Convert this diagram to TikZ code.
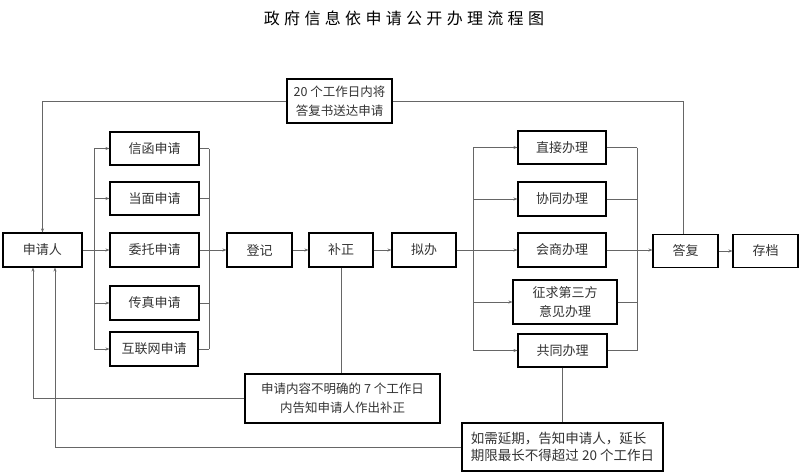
\documentclass[tikz,border=0pt]{standalone}
\usepackage{fontspec}
\setmainfont{Noto Sans CJK SC}
\newfontfamily\cjk{Noto Sans CJK SC}
\usetikzlibrary{arrows.meta}
\begin{document}
\begin{tikzpicture}[x=1pt,y=-1pt,
  box/.style={draw=black, line width=1.1pt, inner sep=0pt, align=center,
    font=\cjk\fontsize{13}{18}\selectfont, text=black!80},
  conn/.style={draw=black!60, line width=0.8pt},
  arr/.style={conn, -{Stealth[length=4pt,width=3pt]}}]
\useasboundingbox (0,0) rectangle (800,476);
\fill[white] (0,0) rectangle (800,476);
% title
\node (title) at (404,18) {\cjk\fontsize{16}{18}\selectfont\addfontfeature{LetterSpace=27}政府信息依申请公开办理流程图};
% boxes
\node[box, minimum width=79pt, minimum height=34pt] (sq) at (42.5,250) {申请人};
\node[box, minimum width=89pt, minimum height=33pt] (xh) at (154.5,148.5) {信函申请};
\node[box, minimum width=89pt, minimum height=33pt] (dm) at (154.5,198.5) {当面申请};
\node[box, minimum width=89pt, minimum height=34pt] (wt) at (154.5,250) {委托申请};
\node[box, minimum width=89pt, minimum height=34pt] (cz) at (154.5,303) {传真申请};
\node[box, minimum width=88pt, minimum height=34pt] (hl) at (154,349) {互联网申请};
\node[box, minimum width=65pt, minimum height=34pt] (dj) at (259.5,250) {登记};
\node[box, minimum width=64pt, minimum height=34pt] (bz) at (341,250) {补正};
\node[box, minimum width=64pt, minimum height=34pt] (nb) at (424,250) {拟办};
\node[box, minimum width=88pt, minimum height=33pt] (zj) at (562,147.5) {直接办理};
\node[box, minimum width=88pt, minimum height=34pt] (xt) at (562,199) {协同办理};
\node[box, minimum width=88pt, minimum height=34pt] (hs) at (562,250) {会商办理};
\node[box, minimum width=104pt, minimum height=44pt, font=\cjk\fontsize{13}{19}\selectfont] (zq) at (565,302) {征求第三方\\意见办理};
\node[box, minimum width=89pt, minimum height=33pt] (gt) at (562.5,350.5) {共同办理};
\node[box, minimum width=65pt, minimum height=33pt] (df) at (685.5,251) {答复};
\node[box, minimum width=65pt, minimum height=33pt] (cd) at (765.5,251) {存档};
\node[box, minimum width=105pt, minimum height=44pt, font=\cjk\fontsize{12.5}{19}\selectfont] (tn) at (339.5,101) {20 个工作日内将\\答复书送达申请};
\node[box, minimum width=195pt, minimum height=49pt, font=\cjk\fontsize{12.5}{18.5}\selectfont] (bn) at (342.5,398.5) {申请内容不明确的 7 个工作日\\内告知申请人作出补正};
\node[box, minimum width=201pt, minimum height=48pt, align=left, font=\cjk\fontsize{13.5}{17}\selectfont] (en) at (562.5,447) {如需延期，告知申请人，延长\\期限最长不得超过 20 个工作日};
% bus coordinates
\coordinate (l1t) at (94,148.5);
\coordinate (l1b) at (94,349);
\coordinate (r1t) at (209,148.5);
\coordinate (r1b) at (209,349);
\coordinate (l2t) at (473,147.5);
\coordinate (l2b) at (473,350.5);
\coordinate (r2t) at (637,147.5);
\coordinate (r2b) at (637,350.5);
% left group
\draw[arr] (sq.east) -- (wt.west);
\draw[conn] (l1t) -- (l1b);
\draw[arr] (l1t) -- (xh.west);
\draw[arr] (l1t |- dm.west) -- (dm.west);
\draw[arr] (l1t |- cz.west) -- (cz.west);
\draw[arr] (l1t |- hl.west) -- (hl.west);
\draw[conn] (r1t) -- (r1b);
\draw[conn] (xh.east) -- (r1t);
\draw[conn] (dm.east) -- (dm.east -| r1t);
\draw[conn] (cz.east) -- (cz.east -| r1t);
\draw[conn] (hl.east) -- (hl.east -| r1t);
\draw[arr] (wt.east) -- (dj.west);
\draw[arr] (dj.east) -- (bz.west);
\draw[arr] (bz.east) -- (nb.west);
\draw[arr] (nb.east) -- (hs.west);
% right group
\draw[conn] (l2t) -- (l2b);
\draw[arr] (l2t) -- (zj.west);
\draw[arr] (l2t |- xt.west) -- (xt.west);
\draw[arr] (l2t |- zq.west) -- (zq.west);
\draw[arr] (l2t |- gt.west) -- (gt.west);
\draw[conn] (r2t) -- (r2b);
\draw[conn] (zj.east) -- (r2t);
\draw[conn] (xt.east) -- (xt.east -| r2t);
\draw[conn] (zq.east) -- (zq.east -| r2t);
\draw[conn] (gt.east) -- (gt.east -| r2t);
\draw[arr] (hs.east) -- (df.west |- hs.east);
\draw[arr] (df.east) -- (cd.west);
% feedback loops
\draw[conn] ([xshift=-2.5pt]df.north) |- (tn.east);
\draw[arr] (tn.west) -| (sq.north);
\draw[conn] (bz.south) -- (bz.south |- bn.north);
\draw[arr] (bn.west) -| ([xshift=-9.5pt]sq.south);
\draw[conn] (gt.south) -- (gt.south |- en.north);
\draw[arr] (en.west) -| ([xshift=12.5pt]sq.south);
\end{tikzpicture}
\end{document}
